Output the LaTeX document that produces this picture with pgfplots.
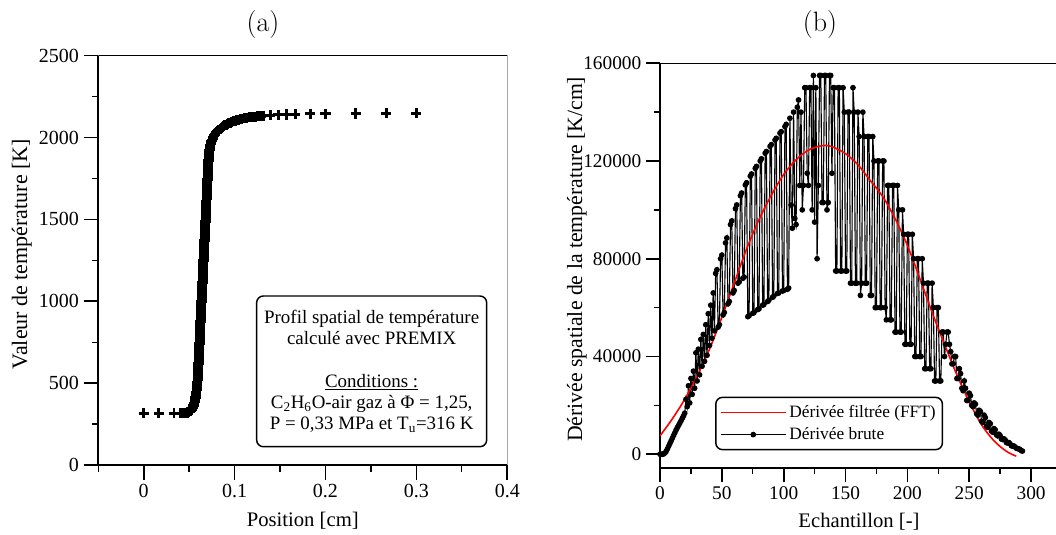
\documentclass[border=0pt]{standalone}
\usepackage{pgfplots}
\pgfplotsset{compat=1.18}
\usepackage{fontspec}
\newfontfamily\tnr{Liberation Serif}
\begin{document}
\begin{tikzpicture}[x=1pt,y=1pt]
\useasboundingbox (0,0) rectangle (792,401.25);
% ---------------- (a) ----------------
\begin{axis}[
  at={(73.7pt,52.5pt)}, anchor=south west,
  width=306.75pt, height=307pt, scale only axis,
  xmin=-0.05, xmax=0.4, ymin=0, ymax=2500,
  axis lines*=left,
  axis line style={line width=1.5pt},
  tick align=outside,
  xtick={0,0.1,0.2,0.3,0.4}, xticklabels={0,0.1,0.2,0.3,0.4},
  minor xtick={-0.05,0.05,0.15,0.25,0.35},
  ytick={0,500,1000,1500,2000,2500}, yticklabels={0,500,1000,1500,2000,2500},
  minor ytick={250,750,1250,1750,2250},
  scaled x ticks=false, scaled y ticks=false,
  major tick length=11pt, minor tick length=5pt,
  major tick style={line width=1.2pt,black},
  minor tick style={line width=1pt,black},
  tick label style={font=\tnr\fontsize{15}{15}\selectfont},
  xlabel style={font=\tnr\fontsize{15.5}{16}\selectfont},
  ylabel style={font=\tnr\fontsize{16.5}{17}\selectfont},
  xlabel={Position [cm]},
  xlabel style={at={(axis description cs:0.5,-0.137)}, anchor=center},
  ylabel={Valeur de température [K]},
  ylabel style={at={(axis description cs:-0.187,0.515)}, anchor=center},
  title={(a)},
  title style={at={(axis description cs:0.4027,1.056)}, anchor=center, font=\fontsize{21}{21}\selectfont},
]
\draw[line width=1pt] (rel axis cs:0,1) -- (rel axis cs:1,1) -- (rel axis cs:1,0);
\addplot[only marks, mark=+, mark size=3.8pt, mark options={line width=2.2pt, black}] coordinates {
(0,316) (0.0167,316) (0.0333,316) (0.0407,316) (0.0436,316) (0.0448,317) (0.0460,318) (0.0472,319)
(0.0484,321) (0.0496,324) (0.0507,328) (0.0517,333) (0.0526,339) (0.0534,346) (0.0541,354) (0.0548,363)
(0.0554,373) (0.0560,385) (0.0565,398) (0.0570,412) (0.0574,427) (0.0578,443) (0.0582,460) (0.0585,477)
(0.0588,494) (0.0591,507)
(0.05940,520) (0.05955,537) (0.05972,555) (0.05986,571) (0.06000,588) (0.06016,606) (0.06030,622) (0.06046,640)
(0.06060,656) (0.06075,673) (0.06091,691) (0.06105,707) (0.06120,724) (0.06136,742) (0.06150,758) (0.06164,774)
(0.06180,792) (0.06195,809) (0.06211,827) (0.06225,843) (0.06240,860) (0.06254,876) (0.06270,894) (0.06286,912)
(0.06300,928) (0.06315,945) (0.06330,962) (0.06344,978) (0.06360,996) (0.06376,1014) (0.06390,1030) (0.06405,1047)
(0.06420,1064) (0.06434,1080) (0.06450,1098) (0.06466,1116) (0.06480,1132) (0.06495,1149) (0.06510,1166) (0.06524,1182)
(0.06540,1200) (0.06556,1218) (0.06570,1234) (0.06585,1251) (0.06600,1268) (0.06614,1284) (0.06630,1302) (0.06646,1320)
(0.06660,1336) (0.06675,1353) (0.06690,1370) (0.06704,1386) (0.06720,1404) (0.06736,1422) (0.06750,1438) (0.06765,1455)
(0.06780,1472) (0.06794,1488) (0.06810,1506) (0.06826,1524) (0.06840,1540) (0.06855,1557) (0.06870,1574) (0.06884,1590)
(0.06900,1608) (0.06916,1626) (0.06930,1642) (0.06945,1659) (0.06960,1676) (0.06974,1692) (0.06990,1710) (0.07006,1728)
(0.07020,1744) (0.07035,1761) (0.07050,1778) (0.07064,1794) (0.07080,1812) (0.07096,1830) (0.07110,1846) (0.07125,1862)
(0.07145,1879) (0.07170,1895) (0.07200,1910) (0.07235,1924) (0.07275,1937) (0.07320,1950) (0.07370,1962) (0.07430,1973)
(0.07500,1984) (0.07580,1994) (0.07665,2003) (0.07755,2012) (0.07850,2020) (0.07950,2028) (0.08055,2035) (0.08165,2042)
(0.08280,2048) (0.08400,2054) (0.08525,2060) (0.08655,2065) (0.08790,2070) (0.08930,2075) (0.09075,2079) (0.09225,2083)
(0.09380,2087) (0.09540,2091) (0.09705,2095) (0.09875,2099) (0.10050,2103) (0.10230,2106) (0.10415,2109) (0.10605,2112)
(0.10800,2115) (0.11050,2118) (0.11350,2121) (0.11650,2123) (0.11950,2125) (0.12250,2127) (0.12550,2129) (0.12850,2131)
(0.13150,2133) (0.13900,2136) (0.14800,2139) (0.15700,2141) (0.16650,2143) (0.18330,2145) (0.20000,2146) (0.23330,2147)
(0.26670,2148) (0.30000,2148)
};
\node[draw, rounded corners=5pt, line width=1.1pt, fill=white, minimum width=172.5pt, minimum height=113pt,
      align=center, inner sep=2pt, font=\tnr\fontsize{14.2}{15.8}\selectfont] at (axis cs:0.2508,572)
 {Profil spatial de température\\calculé avec PREMIX\\[16pt]\underline{Conditions :}\\
  C\textsubscript{2}H\textsubscript{6}O-air gaz à Φ = 1,25,\\P = 0,33 MPa et T\textsubscript{u}=316 K};
\end{axis}
% ---------------- (b) ----------------
\begin{axis}[
  at={(495pt,50.5pt)}, anchor=south west,
  width=301.5pt, height=303.3pt, scale only axis,
  xmin=0, xmax=325, ymin=-5500, ymax=160000,
  axis lines*=left,
  axis line style={line width=1.5pt},
  tick align=outside,
  xtick={0,50,100,150,200,250,300}, xticklabels={0,50,100,150,200,250,300},
  minor xtick={25,75,125,175,225,275,325},
  ytick={0,40000,80000,120000,160000}, yticklabels={0,40000,80000,120000,160000},
  minor ytick={20000,60000,100000,140000},
  scaled x ticks=false, scaled y ticks=false,
  major tick length=10.5pt, minor tick length=4.5pt,
  major tick style={line width=1.2pt,black},
  minor tick style={line width=1pt,black},
  tick label style={font=\tnr\fontsize{14.5}{15}\selectfont},
  xlabel style={font=\tnr\fontsize{15.5}{16}\selectfont},
  ylabel style={font=\tnr\fontsize{16.3}{17}\selectfont},
  xlabel={Echantillon [-]},
  xlabel style={at={(axis description cs:0.495,-0.1335)}, anchor=center},
  ylabel={Dérivée spatiale de la température [K/cm]},
  ylabel style={at={(axis description cs:-0.2065,0.515)}, anchor=center},
  title={(b)},
  title style={at={(axis description cs:0.398,1.075)}, anchor=center, font=\fontsize{21}{21}\selectfont},
  reverse legend,
  legend image code/.code={\draw[mark repeat=2,mark phase=2,#1] plot coordinates {(0pt,0pt) (24.5pt,0pt) (49pt,0pt)};},
  legend style={at={(axis description cs:0.137,0.1756)}, anchor=north west, draw=black, line width=1.1pt,
    rounded corners=5pt, font=\tnr\fontsize{13}{13}\selectfont, cells={anchor=west}, inner xsep=3pt, inner ysep=4pt,
    row sep=2pt},
]
\draw[line width=1.5pt] (rel axis cs:0,1) -- (rel axis cs:1,1) -- (rel axis cs:1,0);
\addplot[draw=black, line width=0.85pt, mark=*, mark size=1.7pt, mark options={solid,fill=black,draw=black}] coordinates {
(0,0) (1,0) (2,0) (3,150) (4,500) (5,1200) (6,2200) (7,3300) (8,4400) (9,5500) (10,6600) (11,7700) (12,8800) (13,9900)
(14,10900) (15,11800) (16,12700) (17,13700) (18,14700) (19,15700) (20,16800)
(21,22500) (22,19500) (23,28000) (24,21000) (25,31000) (26,24500) (27,34000) (28,27000) (29,41500) (30,30000)
(31,43000) (32,32500) (33,47000) (34,36000) (35,49000) (36,38000) (37,53000) (38,40500) (39,57500) (40,44500)
(41,61000) (42,47500) (43,66000) (44,50500)
(45,74000) (46,75500) (47,52000) (48,53000) (49,80000) (50,81500) (51,57000) (52,58000) (53,86500) (54,88500)
(55,61500) (56,62500) (57,94000) (58,95500) (59,66000) (60,67000) (61,100500) (62,102000) (63,70000) (64,70500)
(65,105800) (66,106900) (67,72000) (68,72500) (69,110200)
(70,111100) (71,56300) (72,56700) (73,113800) (74,114700) (75,57700) (76,58000) (77,117000) (78,117800) (79,59200)
(80,59500) (81,120000) (82,120900) (83,61000) (84,61300) (85,123200) (86,123900) (87,62500) (88,63000) (89,126000)
(90,126700) (91,64200) (92,64700) (93,128600) (94,129300) (95,65800) (96,66000) (97,131400) (98,132000) (99,66800)
(100,67000) (101,134100) (102,135000) (103,67500)
(104,68000) (105,137500) (106,102000) (107,92500) (108,140000) (109,96500) (110,94000) (111,142000) (112,145000)
(113,110000) (114,140000) (115,100000) (116,110000) (117,150000) (118,150000) (119,115000) (120,110000) (121,150000)
(122,150000) (123,100000) (124,155000) (125,95000) (126,150000) (127,80000) (128,110000) (129,155000) (130,155000)
(131,103000) (132,103000) (133,155000) (134,155000) (135,100000) (136,103000) (137,155000) (138,155000) (139,115000)
(140,150000) (141,150000) (142,75000) (143,75000) (144,150000) (145,150000) (146,75000) (147,75000) (148,150000)
(149,140000) (150,75000) (151,75000) (152,140000) (153,140000) (154,70000) (155,70000) (156,150000) (157,140000)
(158,70000) (159,70000) (160,140000) (161,130000) (162,65000) (163,70000) (164,140000) (165,130000) (166,70000)
(167,70000) (168,130000) (169,130000) (170,65000) (171,65000) (172,130000) (173,120000) (174,60000) (175,60000)
(176,120000) (177,120000) (178,60000) (179,60000) (180,120000) (181,120000) (182,60000) (183,55000) (184,110000)
(185,110000) (186,55000) (187,55000) (188,110000) (189,110000) (190,50000) (191,50000) (192,110000) (193,100000)
(194,50000) (195,50000) (196,100000) (197,90000) (198,45000) (199,45000) (200,90000) (201,90000) (202,45000)
(203,45000) (204,90000) (205,80000) (206,40000) (207,40000) (208,80000) (209,80000) (210,40000) (211,40000)
(212,80000) (213,70000) (214,35000) (215,35000) (216,70000) (217,70000) (218,35000) (219,35000) (220,70000)
(221,60000) (222,30000) (223,30000) (224,60000) (225,60000) (226,30000) (227,30000) (228,50000) (229,50000)
(230,40000) (231,45000) (232,50000) (233,50000)
(234,45000) (235,42000) (236,37000) (237,37000) (238,40000) (239,40000) (240,31000) (241,31000) (242,35000)
(243,33000) (244,27000) (245,26000) (246,30000) (247,27000) (248,22000) (249,22000) (250,25000) (251,24000)
(252,20000) (253,19500) (254,21000) (255,20500) (256,16500) (257,16000) (258,18000) (259,17500) (260,13500)
(261,13000) (262,16000) (263,15000) (264,11500) (265,11000) (266,13000) (267,12500) (268,9500) (269,9000)
(270,10500) (271,10000) (272,8000) (273,7500) (274,8200) (275,7600) (276,6200) (277,6000) (278,6300) (279,5900)
(280,4800) (281,4600) (282,4800) (283,4300) (284,3500) (285,3300) (286,3400) (287,3000) (288,2500) (289,2300)
(290,2200) (291,1900) (292,1500) (293,1300)
};
\addlegendentry{Dérivée brute}
\addplot[draw=red, line width=1.2pt, smooth] coordinates {
(0,7500) (10,14500) (20,22500) (30,32000) (40,43000) (50,56000) (60,70000) (70,84000) (80,96000) (90,106000)
(100,114500) (110,120500) (120,124500) (130,126200) (135,126300) (140,125700) (150,123000) (160,118500)
(170,112000) (180,105500) (190,96500) (200,85500) (210,72000) (220,58000) (230,45000) (240,32500) (250,21500)
(260,12000) (270,5500) (280,1200) (288,-800)
};
\addlegendentry{Dérivée filtrée (FFT)}
\end{axis}
\end{tikzpicture}
\end{document}
